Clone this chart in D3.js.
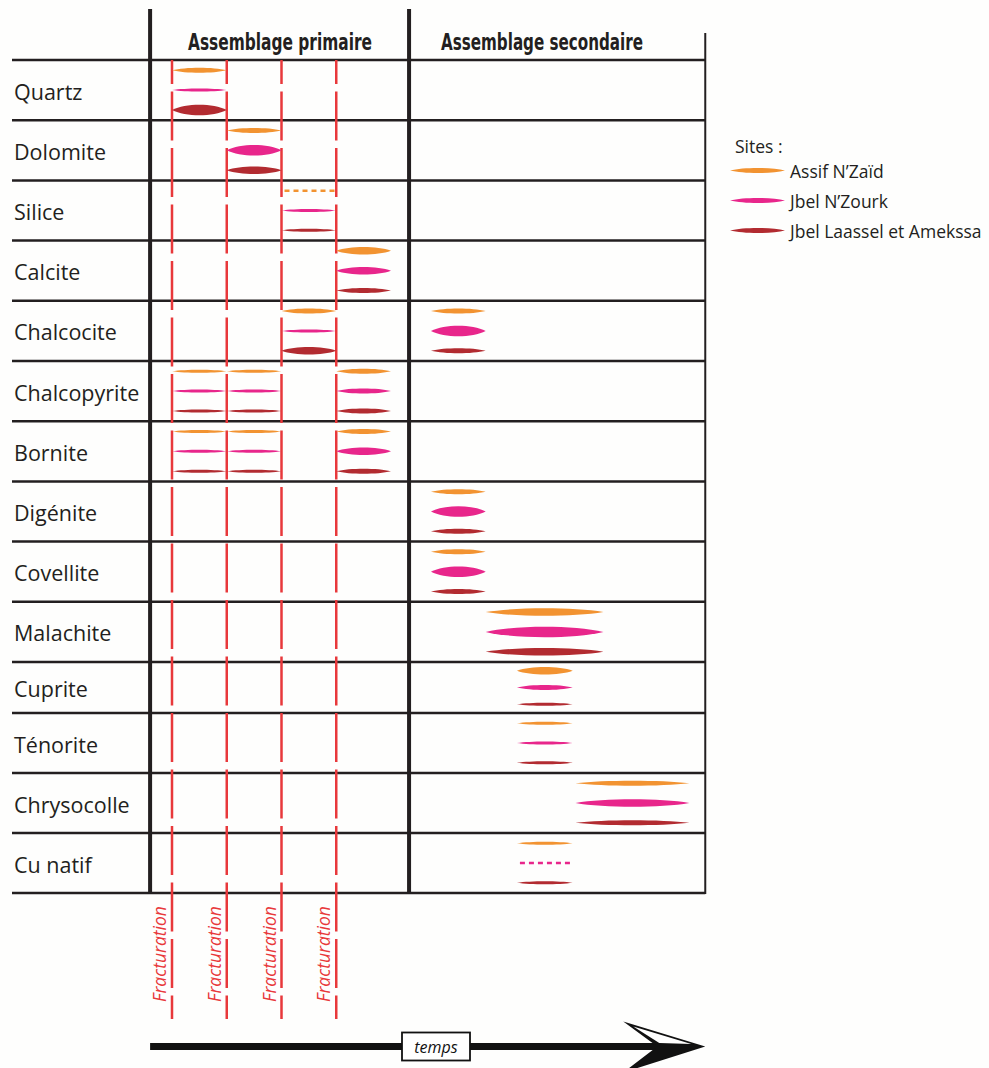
<!DOCTYPE html>
<html>
<head>
<meta charset="utf-8">
<script src="https://cdn.jsdelivr.net/npm/d3@7"></script>
<style>
  body { margin: 0; background: #fff; }
</style>
</head>
<body>
<div id="chart"></div>
<script>
const w = 989;
const h = 1068;

// minerals, top to bottom
const minerals = ['Quartz', 'Dolomite', 'Silice', 'Calcite', 'Chalcocite', 'Chalcopyrite', 'Bornite',
  'Digénite', 'Covellite', 'Malachite', 'Cuprite', 'Ténorite', 'Chrysocolle', 'Cu natif'];
const sites = ['Assif N’Zaïd', 'Jbel N’Zourk', 'Jbel Laassel et Amekssa'];
const phases = ['Assemblage primaire', 'Assemblage secondaire'];
// time of the fracturing events (temps units)
const fractures = [1, 2, 3, 4];
// column limits in time: start, primaire | secondaire, end
const phaseLimits = [0.6, 5.33, 10.74];

// [mineral, start, end, abundance] ; abundance 0 = traces (dashed)
const assifNZaid = [
  ['Quartz', 1, 2, 2], ['Dolomite', 2, 3, 2], ['Silice', 3, 4, 0], ['Calcite', 4, 5, 3],
  ['Chalcocite', 3, 4, 2], ['Chalcocite', 5.73, 6.73, 2],
  ['Chalcopyrite', 1, 2, 1], ['Chalcopyrite', 2, 3, 1], ['Chalcopyrite', 4, 5, 2],
  ['Bornite', 1, 2, 1], ['Bornite', 2, 3, 1], ['Bornite', 4, 5, 2],
  ['Digénite', 5.73, 6.73, 2], ['Covellite', 5.73, 6.73, 2], ['Malachite', 6.73, 8.88, 3],
  ['Cuprite', 7.3, 8.32, 3], ['Ténorite', 7.3, 8.32, 1], ['Chrysocolle', 8.37, 10.45, 2],
  ['Cu natif', 7.3, 8.32, 1]
];
const jbelNZourk = [
  ['Quartz', 1, 2, 1], ['Dolomite', 2, 3, 4], ['Silice', 3, 4, 1], ['Calcite', 4, 5, 3],
  ['Chalcocite', 3, 4, 1], ['Chalcocite', 5.73, 6.73, 4],
  ['Chalcopyrite', 1, 2, 1], ['Chalcopyrite', 2, 3, 1], ['Chalcopyrite', 4, 5, 2],
  ['Bornite', 1, 2, 1], ['Bornite', 2, 3, 1], ['Bornite', 4, 5, 3],
  ['Digénite', 5.73, 6.73, 4], ['Covellite', 5.73, 6.73, 4], ['Malachite', 6.73, 8.88, 4],
  ['Cuprite', 7.3, 8.32, 2], ['Ténorite', 7.3, 8.32, 1], ['Chrysocolle', 8.37, 10.45, 3],
  ['Cu natif', 7.3, 8.32, 0]
];
const jbelLaassel = [
  ['Quartz', 1, 2, 4], ['Dolomite', 2, 3, 3], ['Silice', 3, 4, 1], ['Calcite', 4, 5, 2],
  ['Chalcocite', 3, 4, 3], ['Chalcocite', 5.73, 6.73, 2],
  ['Chalcopyrite', 1, 2, 1], ['Chalcopyrite', 2, 3, 1], ['Chalcopyrite', 4, 5, 2],
  ['Bornite', 1, 2, 1], ['Bornite', 2, 3, 1], ['Bornite', 4, 5, 2],
  ['Digénite', 5.73, 6.73, 2], ['Covellite', 5.73, 6.73, 2], ['Malachite', 6.73, 8.88, 3],
  ['Cuprite', 7.3, 8.32, 1], ['Ténorite', 7.3, 8.32, 1], ['Chrysocolle', 8.37, 10.45, 2],
  ['Cu natif', 7.3, 8.32, 1]
];

const siteData = [assifNZaid, jbelNZourk, jbelLaassel];
const siteColors = ['#f29331', '#e8268b', '#b22b30'];
const siteOffsets = [0.17, 0.5, 0.83];

const dark = '#231f20';
const red = '#e8383b';
const labelFont = '"Open Sans", "Noto Sans", sans-serif';

// scales
const xScale = d3.scaleLinear().domain([1, 4]).range([172, 336.25]);
// row boundaries (the Cuprite row is a bit shorter)
const rowScale = d3.scaleLinear().domain([0, 10, 11, 14]).range([60, 662, 713, 893]);
const thick = d3.scaleLinear().domain([1, 2, 3, 4]).range([3, 5, 7.5, 10.5]);

const svg = d3.select('#chart')
  .append('svg')
  .attr('width', w)
  .attr('height', h)
  .style('background', '#fefefd');

function lens(x0, x1, y, t) {
  const a = t / 1.5;
  const q = (x1 - x0) / 4;
  return 'M' + x0 + ',' + y +
    'C' + (x0 + q) + ',' + (y - a) + ' ' + (x1 - q) + ',' + (y - a) + ' ' + x1 + ',' + y +
    'C' + (x1 - q) + ',' + (y + a) + ' ' + (x0 + q) + ',' + (y + a) + ' ' + x0 + ',' + y + 'Z';
}

//row lines
svg.selectAll('line.row')
  .data(d3.range(minerals.length + 1))
  .enter()
  .append('line')
  .attr('x1', 12)
  .attr('x2', xScale(phaseLimits[2]))
  .attr('y1', (d) => rowScale(d))
  .attr('y2', (d) => rowScale(d))
  .attr('stroke', dark)
  .attr('stroke-width', 2.5);

//mineral names
svg.selectAll('text.mineral')
  .data(minerals)
  .enter()
  .append('text')
  .attr('x', 14)
  .attr('y', (d, i) => (rowScale(i) + rowScale(i + 1)) / 2 + 1)
  .attr('dominant-baseline', 'central')
  .style('font-family', labelFont)
  .style('font-size', '21.5px')
  .attr('fill', dark)
  .text((d) => d);

//red fracturing lines
svg.selectAll('line.fracture')
  .data(fractures)
  .enter()
  .append('line')
  .attr('x1', (d) => xScale(d))
  .attr('x2', (d) => xScale(d))
  .attr('y1', rowScale(0))
  .attr('y2', 1019)
  .attr('stroke', red)
  .attr('stroke-width', 2.5)
  .attr('stroke-dasharray', '49 7.5')
  .attr('stroke-dashoffset', 25);

svg.selectAll('text.fracture')
  .data(fractures)
  .enter()
  .append('text')
  .attr('transform', (d) => 'translate(' + (xScale(d) - 6) + ',954)rotate(-90)')
  .attr('text-anchor', 'middle')
  .style('font-family', labelFont)
  .style('font-style', 'italic')
  .style('font-size', '17.5px')
  .attr('fill', red)
  .text('Fracturation');

//column frame
svg.selectAll('line.col')
  .data(phaseLimits.slice(0, 2))
  .enter()
  .append('line')
  .attr('x1', (d) => xScale(d))
  .attr('x2', (d) => xScale(d))
  .attr('y1', 9)
  .attr('y2', rowScale(minerals.length))
  .attr('stroke', dark)
  .attr('stroke-width', 4);

svg.append('line')
  .attr('x1', xScale(phaseLimits[2]))
  .attr('x2', xScale(phaseLimits[2]))
  .attr('y1', 33)
  .attr('y2', rowScale(minerals.length) + 1)
  .attr('stroke', dark)
  .attr('stroke-width', 2);

//phase headers
svg.selectAll('text.phase')
  .data(phases)
  .enter()
  .append('text')
  .attr('x', (d, i) => i === 0 ? 280 : 542)
  .attr('y', 42)
  .attr('text-anchor', 'middle')
  .attr('dominant-baseline', 'central')
  .attr('textLength', (d, i) => i === 0 ? 184 : 202)
  .attr('lengthAdjust', 'spacingAndGlyphs')
  .style('font-family', '"Liberation Sans Narrow", "DejaVu Sans Condensed", sans-serif')
  .style('font-weight', 'bold')
  .style('font-size', '23px')
  .attr('fill', dark)
  .text((d) => d);

//lenses
siteData.forEach(function (rows, s) {
  const g = svg.append('g');
  const yOf = (d) => {
    const i = minerals.indexOf(d[0]);
    return rowScale(i) + siteOffsets[s] * (rowScale(i + 1) - rowScale(i));
  };
  g.selectAll('path.lens')
    .data(rows.filter((d) => d[3] > 0))
    .enter()
    .append('path')
    .attr('d', (d) => lens(xScale(d[1]), xScale(d[2]), yOf(d), thick(d[3])))
    .attr('fill', siteColors[s]);
  g.selectAll('line.trace')
    .data(rows.filter((d) => d[3] === 0))
    .enter()
    .append('line')
    .attr('x1', (d) => xScale(d[1]) + 3)
    .attr('x2', (d) => xScale(d[2]))
    .attr('y1', yOf)
    .attr('y2', yOf)
    .attr('stroke', siteColors[s])
    .attr('stroke-width', 2.5)
    .attr('stroke-dasharray', '5 4');
});

//legend
svg.append('text')
  .attr('x', 735)
  .attr('y', 146)
  .attr('dominant-baseline', 'central')
  .style('font-family', labelFont)
  .style('font-size', '17.5px')
  .attr('fill', dark)
  .text('Sites :');

sites.forEach(function (name, s) {
  const y = 170.5 + s * 30;
  svg.append('path')
    .attr('d', lens(730, 785, y, 5))
    .attr('fill', siteColors[s]);
  svg.append('text')
    .attr('x', 790)
    .attr('y', y)
    .attr('dominant-baseline', 'central')
    .style('font-family', labelFont)
    .style('font-size', '17.5px')
    .attr('fill', dark)
    .text(name);
});

//time arrow
const tip = xScale(phaseLimits[2]);
const yA = 1046.5;
svg.append('line')
  .attr('x1', xScale(phaseLimits[0]))
  .attr('x2', tip - 45)
  .attr('y1', yA)
  .attr('y2', yA)
  .attr('stroke', '#111')
  .attr('stroke-width', 7);

svg.append('path')
  .attr('d', 'M' + (tip - 82) + ',' + (yA - 25) + 'L' + tip + ',' + yA +
    'L' + (tip - 82) + ',' + (yA + 26) + 'L' + (tip - 48) + ',' + yA + 'Z')
  .attr('fill', '#111');
svg.append('path')
  .attr('d', 'M' + (tip - 72) + ',' + (yA - 20) + 'L' + (tip - 14) + ',' + (yA - 2.5) +
    'L' + (tip - 46) + ',' + (yA - 3.5) + 'Z')
  .attr('fill', '#fff');

svg.append('rect')
  .attr('x', 402)
  .attr('y', 1032.5)
  .attr('width', 68)
  .attr('height', 28)
  .attr('fill', '#fff')
  .attr('stroke', '#111')
  .attr('stroke-width', 1.8);

svg.append('text')
  .attr('x', 436)
  .attr('y', yA)
  .attr('text-anchor', 'middle')
  .attr('dominant-baseline', 'central')
  .style('font-family', labelFont)
  .style('font-style', 'italic')
  .style('font-size', '16px')
  .attr('fill', '#111')
  .text('temps');
</script>
</body>
</html>
